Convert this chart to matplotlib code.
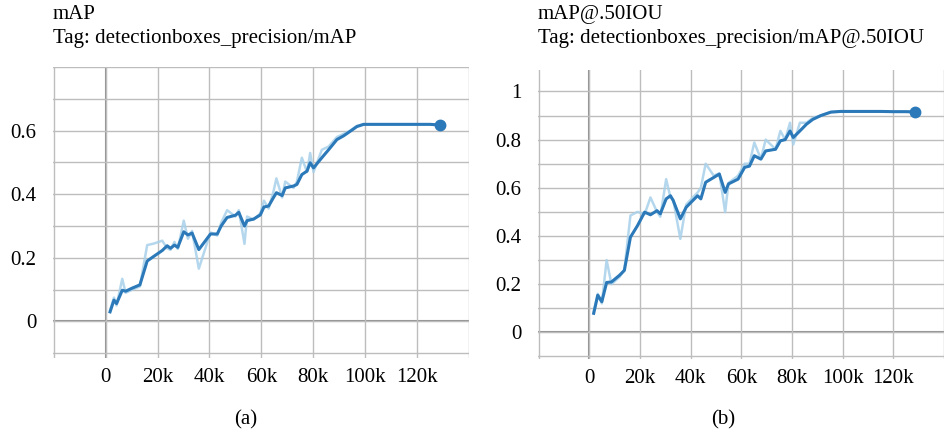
import matplotlib
matplotlib.use('Agg')
import matplotlib.pyplot as plt
from matplotlib.ticker import MultipleLocator

plt.rcParams['font.family'] = ['Liberation Serif', 'DejaVu Serif']

# steps in thousands
map_steps = [1.7, 3.2, 4.2, 6.4, 7.7, 10.3, 13.2, 16, 18.6, 21.8, 23.7, 25, 26.5, 27.8, 30.1, 31.7,
             33.3, 35.9, 40.4, 43, 44.5, 46.8, 50, 51.3, 53.5, 54.5, 57, 59.6, 61, 62.8, 64.7, 65.8,
             68, 69.2, 72.4, 73.7, 75.6, 77.6, 78.8, 80.1, 83.3, 85.9, 89.1, 91.7, 94.2, 96.8, 99.4,
             105, 110, 115, 120, 125, 128.8]
map_smooth = [0.030, 0.067, 0.056, 0.098, 0.095, 0.105, 0.115, 0.19, 0.205, 0.223, 0.238, 0.23, 0.24,
              0.233, 0.282, 0.272, 0.278, 0.226, 0.275, 0.275, 0.30, 0.327, 0.334, 0.343, 0.30, 0.317,
              0.322, 0.335, 0.36, 0.363, 0.39, 0.405, 0.396, 0.42, 0.426, 0.431, 0.462, 0.473, 0.499,
              0.483, 0.515, 0.54, 0.572, 0.584, 0.598, 0.613, 0.62, 0.62, 0.62, 0.62, 0.62, 0.62, 0.618]
map_raw = [0.035, 0.075, 0.05, 0.134, 0.09, 0.10, 0.11, 0.24, 0.245, 0.254, 0.23, 0.225, 0.25, 0.228,
           0.317, 0.26, 0.285, 0.166, 0.28, 0.27, 0.31, 0.35, 0.33, 0.35, 0.244, 0.33, 0.32, 0.34, 0.38,
           0.355, 0.41, 0.45, 0.39, 0.44, 0.42, 0.44, 0.515, 0.47, 0.53, 0.47, 0.54, 0.55, 0.58, 0.59,
           0.60, 0.615, 0.62, 0.62, 0.62, 0.62, 0.62, 0.62, 0.618]

iou_steps = [1.7, 3.3, 4.9, 6.8, 8.7, 11.9, 13.8, 16.2, 19, 21.8, 24.1, 26.7, 28, 30.3, 32, 33.1, 35.9,
             38.2, 40.8, 42.7, 44, 45.9, 49.1, 51.3, 53.6, 54.9, 58.7, 61.3, 63.2, 65.1, 67.7, 69.6,
             73.5, 75.4, 77.3, 79.2, 80.5, 83.1, 85.7, 88.2, 91.4, 95.3, 99.1, 105, 110, 115, 120, 125, 128.6]
iou_smooth = [0.079, 0.154, 0.127, 0.207, 0.209, 0.237, 0.257, 0.395, 0.443, 0.499, 0.488, 0.505, 0.492,
              0.554, 0.567, 0.547, 0.471, 0.519, 0.547, 0.567, 0.554, 0.623, 0.643, 0.657, 0.581, 0.616,
              0.636, 0.685, 0.69, 0.733, 0.719, 0.753, 0.76, 0.795, 0.80, 0.836, 0.809, 0.836, 0.864,
              0.884, 0.90, 0.914, 0.917, 0.917, 0.917, 0.917, 0.916, 0.916, 0.915]
iou_raw = [0.085, 0.16, 0.12, 0.30, 0.20, 0.23, 0.26, 0.485, 0.50, 0.49, 0.56, 0.50, 0.48, 0.636, 0.56,
           0.55, 0.388, 0.53, 0.56, 0.58, 0.60, 0.70, 0.65, 0.66, 0.499, 0.62, 0.65, 0.70, 0.70, 0.788,
           0.72, 0.80, 0.76, 0.836, 0.80, 0.87, 0.78, 0.87, 0.87, 0.89, 0.90, 0.915, 0.918, 0.917,
           0.917, 0.917, 0.916, 0.916, 0.915]

x_ticks = [0, 20, 40, 60, 80, 100, 120]
x_labels = ['0', '20k', '40k', '60k', '80k', '100k', '120k']
map_yticks = [0, 0.2, 0.4, 0.6]
map_ylabels = ['0', '0.2', '0.4', '0.6']
iou_yticks = [0, 0.2, 0.4, 0.6, 0.8, 1.0]
iou_ylabels = ['0', '0.2', '0.4', '0.6', '0.8', '1']

dark = '#2b79b9'
light = '#a8d1ea'
grid_c = '#bdbdbd'
fs = 15

fig = plt.figure(figsize=(9.44, 4.36), dpi=100)


def panel(rect, steps, smooth, raw, ylim, yticks, ylabels, xmax, title, tag, sub, sub_x):
    ax = fig.add_axes(rect)
    ax.plot(steps, raw, color=light, lw=1.8, alpha=0.85, zorder=3)
    ax.plot(steps, smooth, color=dark, lw=2.2, zorder=4)
    ax.plot(steps[-1], smooth[-1], 'o', color=dark, ms=7.5, zorder=5)
    ax.set_xlim(-20.3, xmax)
    ax.set_ylim(*ylim)
    ax.set_xticks(x_ticks)
    ax.set_xticklabels(x_labels)
    ax.set_xticks([-20, 140], minor=True)
    ax.set_yticks(yticks)
    ax.set_yticklabels(ylabels)
    ax.yaxis.set_minor_locator(MultipleLocator(0.1))
    ax.grid(True, which='both', color=grid_c, lw=1.0, zorder=0)
    ax.axhline(0, color='#8f8f8f', lw=1.5, zorder=1)
    ax.axvline(0, color='#8f8f8f', lw=1.5, zorder=1)
    for s in ax.spines.values():
        s.set_visible(False)
    ax.tick_params(length=0, labelsize=fs, which='both')
    ax.tick_params(axis='x', pad=7)
    ax.tick_params(axis='y', pad=12)
    fig.text(rect[0], 0.966, title, fontsize=fs, va='center', ha='left')
    fig.text(rect[0], 0.911, tag, fontsize=fs, va='center', ha='left')
    fig.text(sub_x, 0.037, sub, fontsize=fs, va='center', ha='center')
    return ax


panel([0.0561, 0.179, 0.4407, 0.667], map_steps, map_smooth, map_raw, (-0.115, 0.80),
      map_yticks, map_ylabels, 140, 'mAP', 'Tag: detectionboxes_precision/mAP', '(a)', 0.26)
panel([0.5699, 0.177, 0.4301, 0.663], iou_steps, iou_smooth, iou_raw, (-0.11, 1.09),
      iou_yticks, iou_ylabels, 136.5, 'mAP@.50IOU', 'Tag: detectionboxes_precision/mAP@.50IOU',
      '(b)', 0.766)

fig.savefig('out.png', dpi=100)
